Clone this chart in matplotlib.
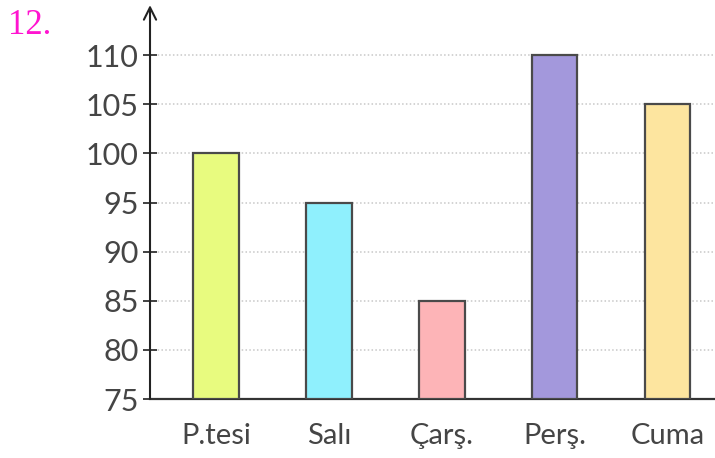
import matplotlib
matplotlib.use('Agg')
import matplotlib.pyplot as plt

gunler = ["P.tesi", "Salı", "Çarş.", "Perş.", "Cuma"]
degerler = [100, 95, 85, 110, 105]
renkler = ["#e8fb7f", "#8ff0fd", "#fdb4b7", "#a398dc", "#fde59f"]
y_ticks = [75, 80, 85, 90, 95, 100, 105, 110]

fig = plt.figure(figsize=(7.15, 4.58), dpi=100)
ax = fig.add_axes([0.2098, 0.1288, 0.790, 0.860])

x = list(range(len(gunler)))
taban = y_ticks[0]
ax.bar(x, [d - taban for d in degerler], bottom=taban, width=0.4,
       color=renkler, edgecolor="#4a4a4a", linewidth=1.6, zorder=3)

ax.set_xlim(-0.584, 4.416)
ax.set_ylim(75, 115.1)
ax.set_yticks(y_ticks)
ax.set_xticks(x)
ax.set_xticklabels(gunler)

for y in y_ticks[1:]:
    ax.axhline(y, color="#c8c8c8", linestyle=(0, (1, 1.5)), linewidth=1.1, zorder=1)

for s in ["top", "right", "left"]:
    ax.spines[s].set_visible(False)
ax.spines["bottom"].set_color("#333333")
ax.spines["bottom"].set_linewidth(1.6)

ax.annotate("", xy=(0, 1.0), xytext=(0, 0), xycoords="axes fraction",
            arrowprops=dict(arrowstyle="->", color="#222222", lw=1.5,
                            mutation_scale=22, shrinkA=0, shrinkB=0))

ax.tick_params(axis="y", direction="inout", length=10, width=1.3, color="#333333",
               labelsize=22, labelcolor="#454545", pad=3)
ax.tick_params(axis="x", length=0, labelsize=21, labelcolor="#454545", pad=17)
for lab in ax.get_xticklabels() + ax.get_yticklabels():
    lab.set_fontfamily("Lato")

fig.text(0.011, 0.925, "12.", color="#ff14d0", fontsize=25,
         fontfamily="Liberation Serif")

plt.savefig("out.png", dpi=100)
plt.close()
